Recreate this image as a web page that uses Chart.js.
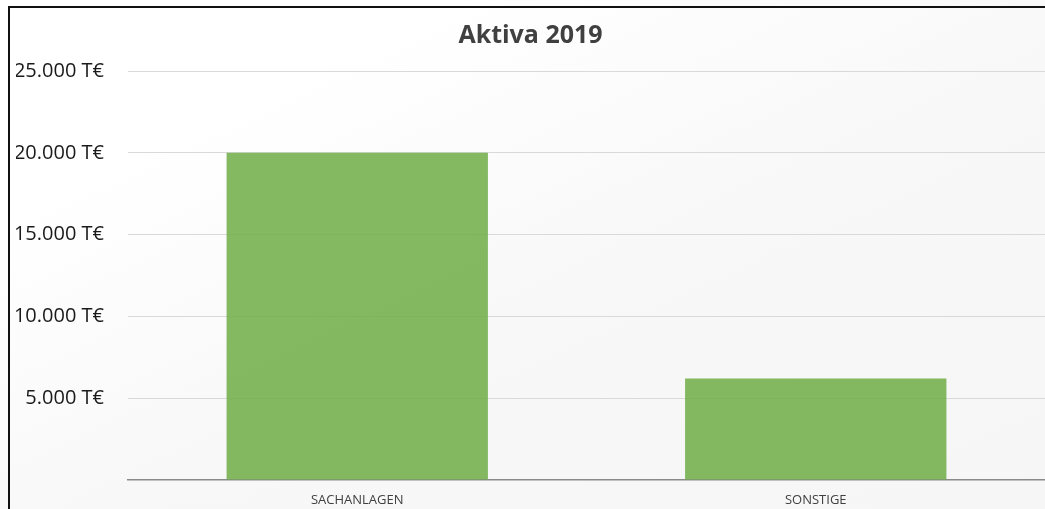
<!DOCTYPE html>
<html lang="de">
<head>
<meta charset="utf-8">
<title>Aktiva 2019</title>
<script src="https://cdn.jsdelivr.net/npm/chart.js@4/dist/chart.umd.min.js"></script>
<style>
  html, body { margin: 0; padding: 0; }
  body {
    width: 1045px; height: 509px; overflow: hidden; position: relative;
    background: linear-gradient(155deg, #ffffff 0%, #ffffff 22%, #f8f8f8 55%, #f6f6f6 100%);
  }
  #wrap { position: absolute; left: 0; top: 0; width: 1045px; height: 509px; }
  #frame {
    position: absolute; left: 8px; top: 6px; right: -4px; bottom: -4px;
    border-left: 2px solid #111; border-top: 2px solid #111;
    pointer-events: none;
  }
</style>
</head>
<body>
<div id="wrap"><canvas id="chart" width="1045" height="509"></canvas></div>
<div id="frame"></div>
<script>
// Balance sheet assets 2019 (in thousand euros)
const categories = ['SACHANLAGEN', 'SONSTIGE'];
const values = [20000, 6200];
const tickValues = [0, 5000, 10000, 15000, 20000, 25000];

const fmt = v => v.toLocaleString('de-DE') + ' T€';

new Chart(document.getElementById('chart'), {
  type: 'bar',
  data: {
    labels: categories,
    datasets: [{
      label: 'Aktiva 2019',
      data: values,
      backgroundColor: 'rgba(112,173,71,0.86)',
      borderWidth: 0,
      barPercentage: 0.57,
      categoryPercentage: 1
    }]
  },
  options: {
    responsive: false,
    animation: false,
    layout: { padding: { left: 16, right: 0, top: 0, bottom: 0 } },
    plugins: {
      legend: { display: false },
      tooltip: { enabled: false },
      title: {
        display: true,
        text: 'Aktiva 2019',
        color: '#404040',
        font: { family: 'Open Sans', size: 25, weight: 'bold', lineHeight: 1.2 },
        padding: { top: 21, bottom: 20 }
      }
    },
    scales: {
      x: {
        grid: { display: false, drawTicks: false },
        border: { display: true, color: '#8a8a8a', width: 1.5 },
        ticks: {
          color: '#404040',
          font: { family: 'Open Sans', size: 13 },
          padding: 12
        },
        afterFit: s => { s.height = 29; }
      },
      y: {
        min: 0,
        max: 25000,
        afterBuildTicks: s => { s.ticks = tickValues.map(v => ({ value: v })); },
        grid: {
          drawTicks: true,
          tickLength: 24,
          tickColor: 'rgba(0,0,0,0)',
          color: ctx => (ctx.tick && ctx.tick.value === 0) ? 'rgba(0,0,0,0)' : '#d9d9d9',
          lineWidth: 1
        },
        border: { display: false },
        ticks: {
          color: '#1a1a1a',
          font: { family: 'Open Sans', size: 20 },
          padding: 0,
          callback: v => v === 0 ? '' : fmt(v)
        },
        afterFit: s => { s.width = 112; }
      }
    }
  }
});
</script>
</body>
</html>
